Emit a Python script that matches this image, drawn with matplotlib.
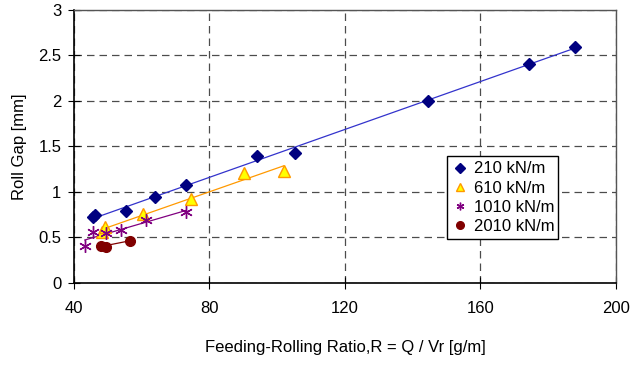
import numpy as np
import matplotlib
matplotlib.use('Agg')
import matplotlib.pyplot as plt

plt.rcParams['font.family'] = ['Liberation Sans', 'DejaVu Sans']

# Feeding-rolling ratio (x) and roll gap (y) for each roll force
x_210 = [45.7, 46.2, 55.4, 64.0, 73.1, 94.0, 105.3, 144.6, 174.2, 188.0]
y_210 = [0.72, 0.75, 0.79, 0.945, 1.077, 1.40, 1.43, 2.00, 2.41, 2.59]

x_610 = [48.4, 49.2, 60.5, 74.4, 90.3, 101.9]
y_610 = [0.56, 0.61, 0.76, 0.92, 1.21, 1.23]

x_1010 = [43.2, 45.5, 49.6, 53.9, 61.3, 73.0]
y_1010 = [0.41, 0.557, 0.546, 0.58, 0.69, 0.78]

x_2010 = [48.0, 49.4, 56.5]
y_2010 = [0.41, 0.40, 0.465]

labels = ['210 kN/m', '610 kN/m', '1010 kN/m', '2010 kN/m']
x_ticks = [40, 80, 120, 160, 200]
y_ticks = [0, 0.5, 1, 1.5, 2, 2.5, 3]
y_tick_labels = ['0', '0.5', '1', '1.5', '2', '2.5', '3']

series = [
    (x_210, y_210, dict(marker='D', ms=6, color='#000080', mec='#000080'), '#3333CC'),
    (x_610, y_610, dict(marker='^', ms=8, color='#FFFF00', mec='#FF9900'), '#FF9900'),
    (x_1010, y_1010, dict(marker=(6, 2, 0), ms=9, color='#800080', mec='#800080', mew=1.0), '#800080'),
    (x_2010, y_2010, dict(marker='o', ms=7, color='#800000', mec='#800000'), '#800000'),
]

fig = plt.figure(figsize=(6.35, 3.67), dpi=100)
ax = fig.add_axes([0.1165, 0.229, 0.8535, 0.744])

for (xs, ys, style, line_color), lab in zip(series, labels):
    xs = np.array(xs)
    ys = np.array(ys)
    # linear trendline over the data range
    k, b = np.polyfit(xs, ys, 1)
    xl = np.array([xs.min(), xs.max()])
    ax.plot(xl, k * xl + b, color=line_color, lw=0.9, zorder=2)
    ax.plot(xs, ys, ls='none', label=lab, zorder=3, **style)

ax.set_xlim(40, 200)
ax.set_ylim(0, 3)
ax.set_xticks(x_ticks)
ax.set_yticks(y_ticks)
ax.set_yticklabels(y_tick_labels)
ax.tick_params(labelsize=12, color='black')
ax.tick_params(axis='x', direction='inout', length=8, pad=9)
ax.tick_params(axis='y', direction='inout', length=8, pad=5)
ax.tick_params(top=False, right=False)

ax.grid(True, color='black', ls=(0, (6, 4)), lw=0.9, alpha=0.7)
ax.set_axisbelow(True)

for s in ['top', 'right']:
    ax.spines[s].set_color('#555555')
    ax.spines[s].set_linewidth(1.0)
for s in ['left', 'bottom']:
    ax.spines[s].set_color('black')
    ax.spines[s].set_linewidth(1.2)

ax.set_xlabel('Feeding-Rolling Ratio,R = Q / Vr [g/m]', fontsize=12, labelpad=17)
ax.set_ylabel('Roll Gap [mm]', fontsize=12, labelpad=8)

leg = ax.legend(loc='lower left', bbox_to_anchor=(0.688, 0.161, 0.205, 0.344),
                mode='expand', fontsize=12, frameon=True, fancybox=False,
                edgecolor='black', framealpha=1, borderpad=0.3,
                handletextpad=0.3, handlelength=1.0, labelspacing=0.25,
                borderaxespad=0)
leg.get_frame().set_linewidth(1.0)
for h in leg.legend_handles:
    h.set_markersize(5.5)

fig.savefig('out.png', dpi=100)
